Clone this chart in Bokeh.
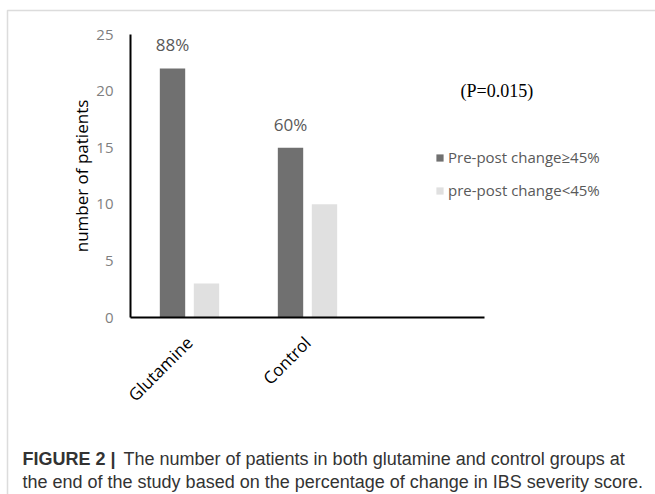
import numpy as np
from bokeh.plotting import figure
from bokeh.models import (FixedTicker, Label, Legend, LegendItem, BoxAnnotation, Range1d, LinearAxis)
from bokeh.core.properties import value
from bokeh.embed import file_html
from bokeh.resources import INLINE

# ---- data ----
categories = ["Glutamine", "Control"]
change_ge45 = [22, 15]
change_lt45 = [3, 10]
pct_labels = ["88%", "60%"]
y_ticks = [0, 5, 10, 15, 20, 25]
series_names = ["Pre-post change≥45%", "pre-post change<45%"]
p_value_text = "(P=0.015)"
y_label = "number of patients"
caption_bold = "FIGURE 2 |"
caption_line1 = "The number of patients in both glutamine and control groups at"
caption_line2 = "the end of the study based on the percentage of change in IBS severity score."

# ---- layout (canvas pixels) ----
W, H = 655, 494
X0, PX_X = 189.0, 118.0     # canvas x of category 0, px per category
Y0, PX_Y = 317.0, 11.32     # canvas y of value 0, px per unit

p = figure(width=W, height=H, output_backend="svg", toolbar_location=None,
           x_axis_location=None, y_axis_location=None,
           x_range=Range1d(-X0 / PX_X, (W - X0) / PX_X),
           y_range=Range1d(-(H - Y0) / PX_Y, Y0 / PX_Y),
           min_border=0)
p.outline_line_color = None
p.xgrid.visible = False
p.ygrid.visible = False
p.background_fill_color = "white"
p.border_fill_color = "white"


def sx(X):
    return X


def sy(Y):
    return H - Y


xs = np.arange(len(categories))
dark_x = xs - 0.144
light_x = xs + 0.144

r_dark = p.vbar(x=dark_x, top=change_ge45, width=0.215, fill_color="#707070", line_color=None)
r_light = p.vbar(x=light_x, top=change_lt45, width=0.215, fill_color="#e0e0e0", line_color=None)

p.text(x=dark_x, y=change_ge45, text=pct_labels, text_align="center", text_baseline="bottom",
       y_offset=-12, text_font=value("Open Sans"), text_font_size="17px", text_color="#595959")

x_lo, x_hi = -0.5, 2.5

# y axis
ya = LinearAxis(fixed_location=x_lo, bounds=(y_ticks[0], y_ticks[-1]))
ya.ticker = FixedTicker(ticks=y_ticks)
ya.axis_line_width = 2
ya.axis_line_color = "black"
ya.major_tick_line_color = None
ya.minor_tick_line_color = None
ya.major_label_text_color = "#7f7f7f"
ya.major_label_text_font = "Open Sans"
ya.major_label_text_font_size = "15px"
ya.major_label_standoff = 11
ya.axis_label = y_label
ya.axis_label_text_font = "Open Sans"
ya.axis_label_text_font_style = "normal"
ya.axis_label_text_font_size = "17px"
ya.axis_label_text_color = "black"
ya.axis_label_standoff = 0
p.add_layout(ya, "left")

# x axis
xa = LinearAxis(fixed_location=0, bounds=(x_lo, x_hi))
xa.ticker = FixedTicker(ticks=[int(i) for i in xs])
xa.major_label_overrides = {int(i): c for i, c in zip(xs, categories)}
xa.major_label_orientation = np.pi / 4
xa.axis_line_width = 2
xa.axis_line_color = "black"
xa.major_tick_line_color = None
xa.minor_tick_line_color = None
xa.major_label_text_font = "Open Sans"
xa.major_label_text_font_size = "17px"
xa.major_label_text_color = "black"
xa.major_label_standoff = 16
p.add_layout(xa, "below")

# legend (location = bottom-left corner of the legend box)
legend = Legend(items=[LegendItem(label=series_names[0], renderers=[r_dark]),
                       LegendItem(label=series_names[1], renderers=[r_light])],
                location=(sx(435), sy(200)), orientation="vertical",
                glyph_width=9, glyph_height=9, label_height=20, label_width=10, spacing=13,
                padding=0, margin=0, label_standoff=4,
                label_text_font="Open Sans", label_text_font_size="15px",
                label_text_color="#595959", background_fill_alpha=0, border_line_color=None)
p.add_layout(legend)

# p-value
p.add_layout(Label(x=sx(460), y=sy(90), x_units="screen", y_units="screen", text=p_value_text,
                   text_font="Liberation Serif", text_font_size="18px", text_color="black",
                   text_baseline="middle"))

# outer frame border
p.add_layout(BoxAnnotation(left=sx(7), right=sx(700), top=sy(10), bottom=sy(540),
                           left_units="screen", right_units="screen", top_units="screen",
                           bottom_units="screen", fill_alpha=0, line_color="#8c8c8c", line_width=1.5))

# caption
cap_font = "Liberation Sans"
cap_size = "18px"
p.add_layout(Label(x=sx(22), y=sy(458), x_units="screen", y_units="screen", text=caption_bold,
                   text_font=cap_font, text_font_style="bold", text_font_size=cap_size,
                   text_color="#333333", text_baseline="alphabetic"))
p.add_layout(Label(x=sx(123), y=sy(458), x_units="screen", y_units="screen", text=caption_line1,
                   text_font=cap_font, text_font_size=cap_size,
                   text_color="#333333", text_baseline="alphabetic"))
p.add_layout(Label(x=sx(22), y=sy(481), x_units="screen", y_units="screen", text=caption_line2,
                   text_font=cap_font, text_font_size=cap_size,
                   text_color="#333333", text_baseline="alphabetic"))

open("out.html", "w").write(file_html(p, INLINE))
